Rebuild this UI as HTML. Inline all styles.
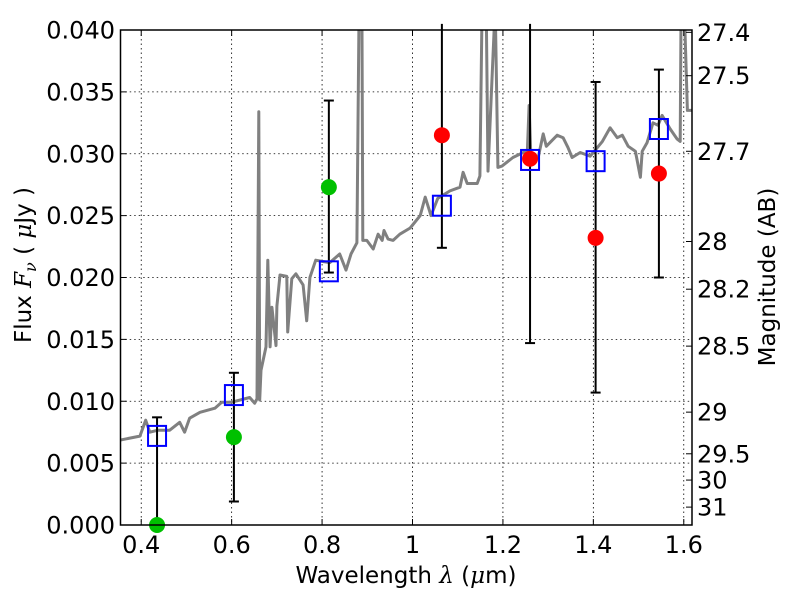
<!DOCTYPE html>
<html><head><meta charset="utf-8">
<style>
html,body{margin:0;padding:0;background:#fff;}
svg{display:block;font-family:"DejaVu Sans","Liberation Sans",sans-serif;}
</style></head>
<body>
<svg id="chart" width="800" height="600" viewBox="0 0 800 600" xmlns="http://www.w3.org/2000/svg">
<defs><clipPath id="pc"><rect x="120" y="30" width="572" height="495"/></clipPath></defs>
<rect x="0" y="0" width="800" height="600" fill="#fff"/>
<g id="grid"></g>
<g id="spec" clip-path="url(#pc)"></g>
<g id="marks"></g>
<rect x="120.5" y="30" width="571.5" height="495" fill="none" stroke="#000" stroke-width="1.5"/>
<g id="axes"></g>
<text x="406" y="583" font-size="23" text-anchor="middle">Wavelength  <tspan font-family="'DejaVu Serif',serif" font-style="italic">λ</tspan> (<tspan font-family="'DejaVu Serif',serif" font-style="italic">μ</tspan>m)</text>
<text transform="translate(31,265) rotate(-90)" font-size="23" text-anchor="middle">Flux  <tspan font-family="'DejaVu Serif',serif" font-style="italic">F<tspan font-size="16" dy="5">ν</tspan></tspan><tspan dy="-5">  (  </tspan><tspan font-family="'DejaVu Serif',serif" font-style="italic">μ</tspan>Jy )</text>
<text transform="translate(775,277) rotate(-90)" font-size="23" text-anchor="middle">Magnitude (AB)</text>
</svg>
<script>
const specWave=[0.352,0.397,0.410,0.419,0.437,0.463,0.485,0.496,0.507,0.530,0.563,0.578,0.600,0.640,0.651,0.656,0.660,0.662,0.665,0.676,0.680,0.685,0.689,0.698,0.700,0.707,0.722,0.724,0.733,0.742,0.758,0.766,0.773,0.786,0.800,0.817,0.839,0.853,0.864,0.877,0.882,0.888,0.890,0.899,0.913,0.924,0.933,0.937,0.946,0.957,0.972,0.995,1.017,1.028,1.041,1.056,1.083,1.105,1.112,1.121,1.143,1.149,1.154,1.163,1.167,1.183,1.189,1.198,1.222,1.245,1.254,1.258,1.262,1.278,1.289,1.296,1.320,1.333,1.344,1.353,1.371,1.393,1.420,1.437,1.453,1.464,1.477,1.493,1.504,1.508,1.519,1.532,1.543,1.552,1.570,1.585,1.592,1.594,1.601,1.608,1.619];
const specFlux=[0.00685,0.00718,0.00847,0.0075,0.00766,0.00766,0.0083,0.0075,0.00863,0.00911,0.00944,0.00992,0.00992,0.0103,0.00984,0.0102,0.0334,0.0101,0.0125,0.0144,0.0214,0.0144,0.0176,0.0145,0.0177,0.0202,0.0201,0.0156,0.0199,0.0203,0.0194,0.0165,0.0200,0.0214,0.0213,0.0212,0.0219,0.0206,0.0219,0.0228,0.0420,0.0420,0.0230,0.0230,0.0223,0.0235,0.0230,0.0238,0.0231,0.0230,0.0235,0.0240,0.0250,0.0265,0.0250,0.0264,0.0270,0.0273,0.0285,0.0276,0.0276,0.0282,0.0420,0.0420,0.0286,0.0420,0.0289,0.0290,0.0297,0.0301,0.0301,0.0339,0.0294,0.0297,0.0316,0.0306,0.0315,0.0313,0.0305,0.0297,0.0301,0.0298,0.0310,0.0321,0.0313,0.0315,0.0306,0.0302,0.0281,0.0302,0.0309,0.0325,0.0323,0.0331,0.0320,0.0312,0.0310,0.0420,0.0420,0.0335,0.0335];
const bandWave=[0.435,0.605,0.815,1.065,1.260,1.405,1.545];
const modelFlux=[0.0072,0.0105,0.0205,0.0258,0.0295,0.0294,0.0320];
const obsFlux=[0.0000,0.0071,0.0273,0.0315,0.0296,0.0232,0.0284];
const errLow=[0.0000,0.0019,0.0204,0.0224,0.0147,0.0107,0.0200];
const errHigh=[0.0087,0.0123,0.0343,0.0420,0.0420,0.0358,0.0368];
const obsColor=['#00c000','#00c000','#00c000','#ff0000','#ff0000','#ff0000','#ff0000'];
const xTicks=[0.4,0.6,0.8,1.0,1.2,1.4,1.6];
const xTickLabels=['0.4','0.6','0.8','1','1.2','1.4','1.6'];
const yTicks=[0,0.005,0.01,0.015,0.02,0.025,0.03,0.035,0.04];
const yTickLabels=['0.000','0.005','0.010','0.015','0.020','0.025','0.030','0.035','0.040'];
const magTicks=[27.4,27.5,27.7,28,28.2,28.5,29,29.5,30,31];
const magTickLabels=['27.4','27.5','27.7','28','28.2','28.5','29','29.5','30','31'];

const NS='http://www.w3.org/2000/svg';
const X0=120.7,X1=692,Y0=525,Y1=30;
const xmin=0.3546,xmax=1.6182,ymin=0,ymax=0.04;
function sx(v){return X0+(v-xmin)/(xmax-xmin)*(X1-X0);}
function sy(v){return Y0-(v-ymin)/(ymax-ymin)*(Y0-Y1);}
function mk(tag,attrs,parent){const e=document.createElementNS(NS,tag);for(const k in attrs)e.setAttribute(k,attrs[k]);parent.appendChild(e);return e;}
const grid=document.getElementById('grid'),axes=document.getElementById('axes'),spec=document.getElementById('spec'),marks=document.getElementById('marks');

xTicks.forEach((t,i)=>{
  const x=sx(t);
  const g=mk('line',{x1:x,x2:x,y1:Y1,y2:Y0,stroke:'#000','stroke-width':0.8,'stroke-dasharray':'1.5,3'},grid);
  
  
  mk('line',{x1:x,x2:x,y1:Y0,y2:Y0-6,stroke:'#000','stroke-width':1},axes);
  mk('line',{x1:x,x2:x,y1:Y1,y2:Y1+6,stroke:'#000','stroke-width':1},axes);
  const tx=mk('text',{x:x,y:553,'font-size':24,'text-anchor':'middle'},axes);
  tx.textContent=xTickLabels[i];
  
  
});
yTicks.forEach((t,i)=>{
  const y=sy(t);
  if(t>0&&t<0.04){
    const g=mk('line',{x1:X0,x2:X1,y1:y,y2:y,stroke:'#000','stroke-width':0.8,'stroke-dasharray':'1.5,3'},grid);
    
    
  }
  mk('line',{x1:X0,x2:X0+6,y1:y,y2:y,stroke:'#000','stroke-width':1},axes);
  const tx=mk('text',{x:115,y:y+8.5,'font-size':24,'text-anchor':'end'},axes);
  tx.textContent=yTickLabels[i];
  
  
});
magTicks.forEach((m,i)=>{
  const y=sy(Math.pow(10,(23.9-m)/2.5));
  mk('line',{x1:X1-6,x2:X1,y1:y,y2:y,stroke:'#000','stroke-width':1},axes);
  const tx=mk('text',{x:697,y:y+8.5,'font-size':24,'text-anchor':'start'},axes);
  tx.textContent=magTickLabels[i];
  
  
});

const pts=specWave.map((w,i)=>sx(w).toFixed(1)+','+sy(specFlux[i]).toFixed(1)).join(' ');
const pl=mk('polyline',{points:pts,fill:'none',stroke:'#808080','stroke-width':3,'stroke-linejoin':'round'},spec);



bandWave.forEach((w,i)=>{
  const x=sx(w);
  const lo=sy(errLow[i]),hi=sy(Math.min(errHigh[i],0.0405));
  const eb=mk('line',{x1:x,x2:x,y1:lo,y2:hi,stroke:'#000','stroke-width':2},marks);
  
  
  if(errLow[i]>0) mk('line',{x1:x-5,x2:x+5,y1:lo,y2:lo,stroke:'#000','stroke-width':2},marks);
  if(errHigh[i]<0.04) mk('line',{x1:x-5,x2:x+5,y1:hi,y2:hi,stroke:'#000','stroke-width':2},marks);
  const c=mk('circle',{cx:x,cy:sy(obsFlux[i]),r:8,fill:obsColor[i]},marks);
  
  
  const s=mk('rect',{x:x-9,y:sy(modelFlux[i])-10,width:18,height:20,fill:'none',stroke:'#0000ff','stroke-width':2},marks);
  
  
});
</script>
</body></html>
